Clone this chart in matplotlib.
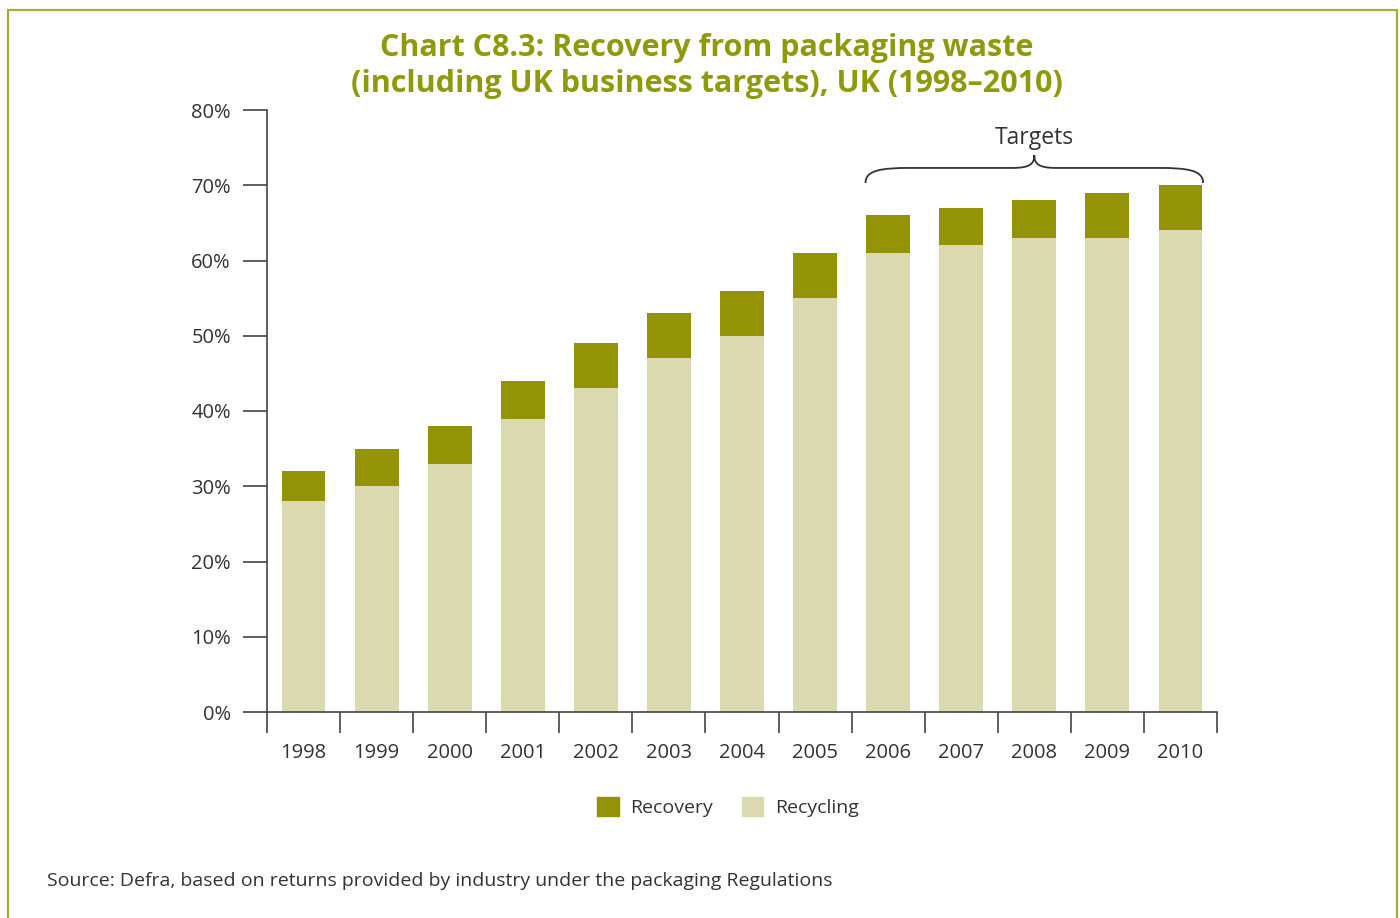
import matplotlib.pyplot as plt
from matplotlib.path import Path
from matplotlib.patches import PathPatch, Rectangle, Patch

plt.rcParams['font.family'] = ['Open Sans', 'DejaVu Sans']

years = ["1998", "1999", "2000", "2001", "2002", "2003", "2004",
         "2005", "2006", "2007", "2008", "2009", "2010"]
recycling = [28, 30, 33, 39, 43, 47, 50, 55, 61, 62, 63, 63, 64]
total_recovery = [32, 35, 38, 44, 49, 53, 56, 61, 66, 67, 68, 69, 70]
recovery = [t - r for t, r in zip(total_recovery, recycling)]

c_recovery = "#949305"
c_recycling = "#dbd9b0"
c_title = "#8f990c"
c_text = "#333333"
c_axis = "#444444"

fig = plt.figure(figsize=(14, 9.18), dpi=100)
ax = fig.add_axes([267 / 1400, 1 - 712 / 918, 950 / 1400, 602 / 918])

x = list(range(len(years)))
ax.bar(x, recycling, width=0.6, color=c_recycling, zorder=2)
ax.bar(x, recovery, width=0.6, bottom=recycling, color=c_recovery, zorder=2)

ax.set_xlim(-0.5, len(years) - 0.5)
ax.set_ylim(0, 80)
ax.set_yticks(range(0, 81, 10))
ax.set_yticklabels([f"{v}%" for v in range(0, 81, 10)])
ax.set_xticks(x)
ax.set_xticklabels(years)
ax.set_xticks([i - 0.5 for i in range(len(years) + 1)], minor=True)
ax.tick_params(axis='x', which='major', length=0, pad=22, labelsize=14.5, labelcolor=c_text)
ax.tick_params(axis='x', which='minor', length=15, width=1.2, color=c_axis)
ax.tick_params(axis='y', length=17, width=1.2, color=c_axis, labelsize=14.5, labelcolor=c_text, pad=9)
for s in ["top", "right"]:
    ax.spines[s].set_visible(False)
for s in ["left", "bottom"]:
    ax.spines[s].set_color(c_axis)
    ax.spines[s].set_linewidth(1.2)

# brace over target years
verts = [(7.69, 70.3), (7.69, 72.0), (7.9, 72.3), (8.3, 72.3),
         (9.7, 72.3),
         (9.95, 72.3), (10.0, 72.9), (10.0, 74.0),
         (10.0, 72.9), (10.05, 72.3), (10.3, 72.3),
         (11.7, 72.3),
         (12.1, 72.3), (12.31, 72.0), (12.31, 70.3)]
codes = [Path.MOVETO, Path.CURVE4, Path.CURVE4, Path.CURVE4,
         Path.LINETO,
         Path.CURVE4, Path.CURVE4, Path.CURVE4,
         Path.CURVE4, Path.CURVE4, Path.CURVE4,
         Path.LINETO,
         Path.CURVE4, Path.CURVE4, Path.CURVE4]
ax.add_patch(PathPatch(Path(verts, codes), fill=False, lw=1.3, edgecolor=c_text, clip_on=False))
ax.text(10, 76.3, "Targets", ha="center", va="center", fontsize=16.5, color=c_text)

fig.text(0.505, 1 - 66 / 918, "Chart C8.3: Recovery from packaging waste\n(including UK business targets), UK (1998\u20132010)",
         ha="center", va="center", fontsize=22, fontweight="bold", color=c_title, linespacing=1.25)

handles = [Patch(color=c_recovery, label="Recovery"), Patch(color=c_recycling, label="Recycling")]
fig.legend(handles=handles, loc="center", bbox_to_anchor=(728 / 1400, 1 - 807 / 918), ncol=2,
           frameon=False, fontsize=14, handlelength=1.1, handleheight=1.1, columnspacing=1.5,
           handletextpad=0.6, labelcolor=c_text)

fig.text(47 / 1400, 1 - 881 / 918, "Source: Defra, based on returns provided by industry under the packaging Regulations",
         ha="left", va="center", fontsize=14, color=c_text)

fig.patches.append(Rectangle((8 / 1400, -0.05), 1389 / 1400, 1.05 - 10 / 918, transform=fig.transFigure,
                             fill=False, edgecolor="#a8ab3c", lw=1.6))

fig.savefig("out.png", dpi=100)
